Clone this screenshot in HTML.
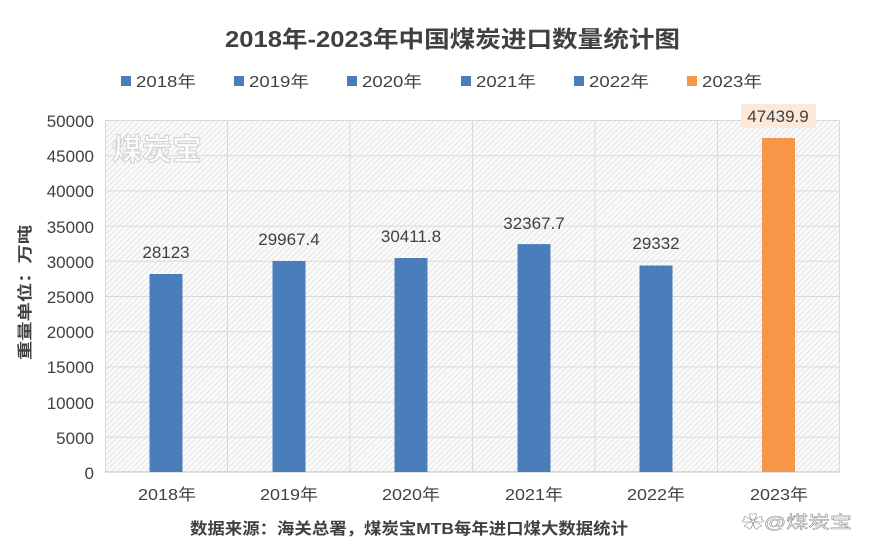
<!DOCTYPE html>
<html><head><meta charset="utf-8"><style>
body{margin:0;background:#fff;}
svg text{font-family:"Liberation Sans","Noto Sans CJK SC",sans-serif;}
</style></head><body>
<svg width="869" height="555" viewBox="0 0 869 555" xmlns="http://www.w3.org/2000/svg">
<defs>
<pattern id="h" width="4" height="4" patternUnits="userSpaceOnUse" patternTransform="rotate(45)">
<rect width="4" height="4" fill="#fafafa"/>
<line x1="0" y1="0" x2="0" y2="4" stroke="#d8d8d8" stroke-width="1.2"/>
</pattern>
</defs>
<text x="225" y="47" font-size="23" font-weight="bold" fill="#404040" textLength="455" lengthAdjust="spacingAndGlyphs">2018年-2023年中国煤炭进口数量统计图</text>
<g font-size="16" fill="#404040">
<rect x="121" y="76" width="10" height="10" fill="#4a7ebb"/><text x="136" y="87" textLength="60" lengthAdjust="spacingAndGlyphs">2018年</text>
<rect x="234" y="76" width="10" height="10" fill="#4a7ebb"/><text x="249" y="87" textLength="60" lengthAdjust="spacingAndGlyphs">2019年</text>
<rect x="347" y="76" width="10" height="10" fill="#4a7ebb"/><text x="362" y="87" textLength="60" lengthAdjust="spacingAndGlyphs">2020年</text>
<rect x="461" y="76" width="10" height="10" fill="#4a7ebb"/><text x="476" y="87" textLength="60" lengthAdjust="spacingAndGlyphs">2021年</text>
<rect x="574" y="76" width="10" height="10" fill="#4a7ebb"/><text x="589" y="87" textLength="60" lengthAdjust="spacingAndGlyphs">2022年</text>
<rect x="687" y="76" width="10" height="10" fill="#f79646"/><text x="702" y="87" textLength="60" lengthAdjust="spacingAndGlyphs">2023年</text>
</g>
<rect x="105" y="120" width="735" height="352" fill="url(#h)"/>
<g stroke="#d9d9d9" stroke-width="1">
<line x1="105" y1="120.5" x2="840" y2="120.5"/>
<line x1="105" y1="155.7" x2="840" y2="155.7"/>
<line x1="105" y1="190.9" x2="840" y2="190.9"/>
<line x1="105" y1="226.1" x2="840" y2="226.1"/>
<line x1="105" y1="261.3" x2="840" y2="261.3"/>
<line x1="105" y1="296.5" x2="840" y2="296.5"/>
<line x1="105" y1="331.7" x2="840" y2="331.7"/>
<line x1="105" y1="366.9" x2="840" y2="366.9"/>
<line x1="105" y1="402.1" x2="840" y2="402.1"/>
<line x1="105" y1="437.3" x2="840" y2="437.3"/>
<line x1="105.5" y1="120" x2="105.5" y2="472"/>
<line x1="227.5" y1="120" x2="227.5" y2="472"/>
<line x1="350" y1="120" x2="350" y2="472"/>
<line x1="472.5" y1="120" x2="472.5" y2="472"/>
<line x1="595" y1="120" x2="595" y2="472"/>
<line x1="717.5" y1="120" x2="717.5" y2="472"/>
<line x1="839.5" y1="120" x2="839.5" y2="472"/>
</g>
<line x1="105" y1="472" x2="840" y2="472" stroke="#bfbfbf"/>
<text x="112" y="160" font-size="30" font-weight="bold" fill="#fff" stroke="#ccc" stroke-width="1" opacity="0.9">煤炭宝</text>
<g font-size="17" fill="#404040" text-anchor="end">
<text x="94" y="127">50000</text><text x="94" y="162">45000</text><text x="94" y="197">40000</text>
<text x="94" y="233">35000</text><text x="94" y="268">30000</text><text x="94" y="303">25000</text>
<text x="94" y="338">20000</text><text x="94" y="373">15000</text><text x="94" y="409">10000</text>
<text x="94" y="444">5000</text><text x="94" y="479">0</text>
</g>
<text transform="translate(30,293) rotate(-90)" x="-67" font-size="15" font-weight="bold" fill="#404040" textLength="135" lengthAdjust="spacingAndGlyphs">重量单位：万吨</text>
<g fill="#4a7ebb">
<rect x="149.5" y="274" width="33" height="198"/>
<rect x="272.5" y="261" width="33" height="211"/>
<rect x="394.5" y="258" width="33" height="214"/>
<rect x="517.5" y="244.1" width="33" height="227.9"/>
<rect x="639.5" y="265.5" width="33" height="206.5"/>
</g>
<rect x="762" y="138" width="33" height="334" fill="#f79646"/>
<g font-size="17" fill="#404040" text-anchor="middle">
<text x="166" y="258">28123</text>
<text x="289" y="245">29967.4</text>
<text x="411" y="242">30411.8</text>
<text x="534" y="229">32367.7</text>
<text x="656" y="249">29332</text>
<rect x="741" y="104" width="75" height="24" fill="#fde9d9"/>
<text x="778" y="122">47439.9</text>
</g>
<g font-size="16" fill="#404040">
<text x="138" y="500" textLength="58" lengthAdjust="spacingAndGlyphs">2018年</text>
<text x="260" y="500" textLength="58" lengthAdjust="spacingAndGlyphs">2019年</text>
<text x="382" y="500" textLength="58" lengthAdjust="spacingAndGlyphs">2020年</text>
<text x="505" y="500" textLength="58" lengthAdjust="spacingAndGlyphs">2021年</text>
<text x="627" y="500" textLength="58" lengthAdjust="spacingAndGlyphs">2022年</text>
<text x="750" y="500" textLength="58" lengthAdjust="spacingAndGlyphs">2023年</text>
</g>
<text x="190" y="534" font-size="16" font-weight="bold" fill="#404040" textLength="438" lengthAdjust="spacingAndGlyphs">数据来源：海关总署，煤炭宝MTB每年进口煤大数据统计</text>
<text x="742" y="528" font-size="17" fill="#fff" stroke="#999" stroke-width="0.6" textLength="110" lengthAdjust="spacingAndGlyphs">✿@煤炭宝</text>
</svg>
</body></html>
